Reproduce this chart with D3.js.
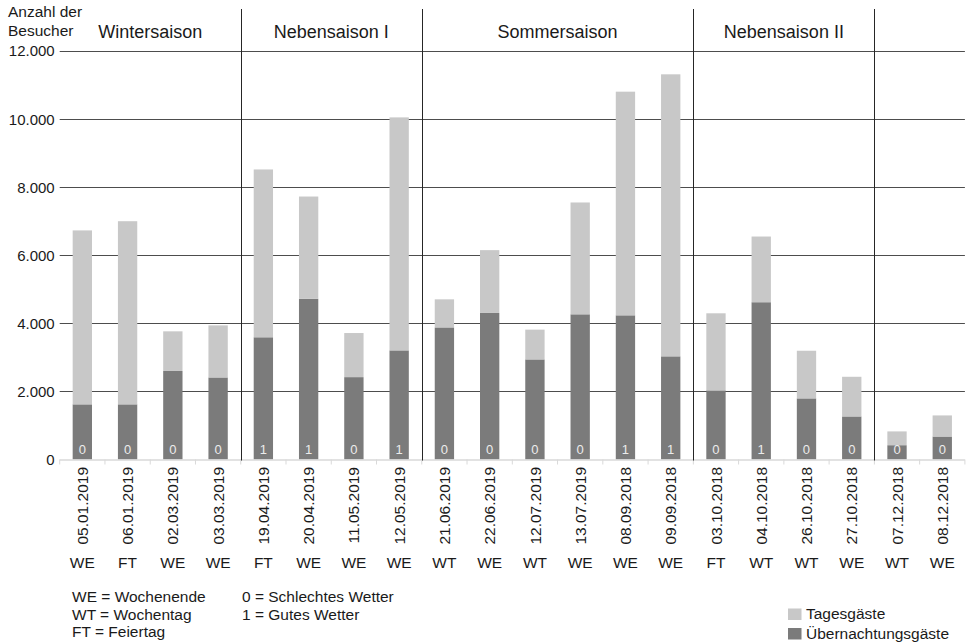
<!DOCTYPE html>
<html lang="de">
<head>
<meta charset="utf-8">
<title>Besucher nach Saison</title>
<script src="https://cdn.jsdelivr.net/npm/d3@7"></script>
<style>
  html, body { margin: 0; padding: 0; background: #fff; }
  svg { display: block; font-family: "Liberation Sans", Arial, sans-serif; }
</style>
</head>
<body>
<svg id="chart" width="966" height="643"></svg>
<script>
// Survey days
const dates = ["05.01.2019","06.01.2019","02.03.2019","03.03.2019",
               "19.04.2019","20.04.2019","11.05.2019","12.05.2019",
               "21.06.2019","22.06.2019","12.07.2019","13.07.2019","08.09.2018","09.09.2018",
               "03.10.2018","04.10.2018","26.10.2018","27.10.2018",
               "07.12.2018","08.12.2018"];
const dayTypes = ["WE","FT","WE","WE","FT","WE","WE","WE","WT","WE",
                  "WT","WE","WE","WE","FT","WT","WT","WE","WT","WE"];
const weather = [0,0,0,0,1,1,0,1,0,0,0,0,1,1,0,1,0,0,0,0];

// Visitors per day
const overnightGuests = [1620,1620,2600,2410,3590,4720,2420,3205,3880,4305,
                         2940,4265,4235,3030,2030,4620,1795,1265,420,675];
const dayGuests       = [5110,5380,1165,1530,4930,3005,1295,6845,825,1845,
                         875,3285,6570,8285,2265,1930,1400,1165,405,620];

// Seasons (number of survey days in each)
const seasonNames  = ["Wintersaison","Nebensaison I","Sommersaison","Nebensaison II",""];
const seasonCounts = [4,4,6,4,2];

const yTicks = [0,2000,4000,6000,8000,10000,12000];

const seriesKeys   = ["overnight","day"];
const seriesLabels = {day: "Tagesgäste", overnight: "Übernachtungsgäste"};
const seriesColors = {day: "#c8c8c8", overnight: "#7b7b7b"};

const dayTypeLegend = ["WE = Wochenende","WT = Wochentag","FT = Feiertag"];
const weatherLegend = ["0 = Schlechtes Wetter","1 = Gutes Wetter"];

// ---------------------------------------------------------------
const svg = d3.select("#chart");
const plotLeft = 59.7, plotRight = 964.9, plotTop = 51, plotBottom = 459.5;

const de = d3.formatLocale({decimal: ",", thousands: ".", grouping: [3], currency: ["", " €"]});
const fmt = de.format(",");

const xCell = d3.scaleBand().domain(dates).range([plotLeft, plotRight]).padding(0);
const x = xCell.copy().paddingInner(0.573).paddingOuter(0.2865);
const y = d3.scaleLinear().domain([0, 12000]).range([plotBottom, plotTop]);

const rows = dates.map((d, i) => ({date: d, overnight: overnightGuests[i], day: dayGuests[i]}));
const stacked = d3.stack().keys(seriesKeys)(rows);

// horizontal grid
svg.append("g").selectAll("line")
  .data(yTicks.filter(t => t > 0))
  .join("line")
  .attr("x1", plotLeft).attr("x2", plotRight)
  .attr("y1", d => Math.round(y(d)) + 0.5).attr("y2", d => Math.round(y(d)) + 0.5)
  .attr("stroke", "#4d4d4d").attr("stroke-width", 1);

// y axis labels
const yAxis = svg.append("g")
  .attr("transform", `translate(${plotLeft - 5},0)`)
  .call(d3.axisLeft(y).tickValues(yTicks).tickFormat(fmt).tickSize(0).tickPadding(0));
yAxis.select(".domain").remove();
yAxis.selectAll("text")
  .attr("font-family", "'Liberation Sans', Arial, sans-serif")
  .attr("font-size", 15).attr("fill", "#1a1a1a").attr("dy", "0.33em");

svg.append("text").attr("x", 8).attr("y", 17)
  .attr("font-size", 15.5).attr("fill", "#1a1a1a").text("Anzahl der");
svg.append("text").attr("x", 8).attr("y", 36)
  .attr("font-size", 15.5).attr("fill", "#1a1a1a").text("Besucher");

// stacked bars
svg.append("g").selectAll("g")
  .data(stacked)
  .join("g")
  .attr("fill", s => seriesColors[s.key])
  .selectAll("rect")
  .data(s => s)
  .join("rect")
  .attr("x", d => x(d.data.date))
  .attr("width", x.bandwidth())
  .attr("y", d => y(d[1]))
  .attr("height", d => y(d[0]) - y(d[1]));

// baseline with tick marks between days
const base = svg.append("g");
base.append("line")
  .attr("x1", plotLeft).attr("x2", plotRight)
  .attr("y1", plotBottom + 0.5).attr("y2", plotBottom + 0.5)
  .attr("stroke", "#d9d9d9").attr("stroke-width", 1.5);
base.selectAll("line.tick")
  .data(dates.map(d => xCell(d)).concat([plotRight]))
  .join("line").attr("class", "tick")
  .attr("x1", d => d).attr("x2", d => d)
  .attr("y1", plotBottom).attr("y2", plotBottom + 5)
  .attr("stroke", "#d9d9d9").attr("stroke-width", 1);

// season separators and titles
const bounds = [0];
seasonCounts.forEach(c => bounds.push(bounds[bounds.length - 1] + c));
const boundX = i => i < dates.length ? xCell(dates[i]) : plotRight;

svg.append("g").selectAll("line")
  .data(bounds.slice(1, -1))
  .join("line")
  .attr("x1", i => Math.round(boundX(i)) + 0.5).attr("x2", i => Math.round(boundX(i)) + 0.5)
  .attr("y1", 9).attr("y2", plotBottom + 1)
  .attr("stroke", "#262626").attr("stroke-width", 1);

svg.append("g").selectAll("text")
  .data(seasonNames)
  .join("text")
  .attr("x", (d, i) => (boundX(bounds[i]) + boundX(bounds[i + 1])) / 2)
  .attr("y", 38)
  .attr("text-anchor", "middle")
  .attr("font-size", 18).attr("fill", "#1a1a1a")
  .text(d => d);

// weather code inside each bar
svg.append("g").selectAll("text")
  .data(dates)
  .join("text")
  .attr("x", d => x(d) + x.bandwidth() / 2)
  .attr("y", 454)
  .attr("text-anchor", "middle")
  .attr("font-size", 13).attr("fill", "#ececec")
  .text((d, i) => weather[i]);

// rotated dates
svg.append("g").selectAll("text")
  .data(dates)
  .join("text")
  .attr("transform", d => `translate(${x(d) + x.bandwidth() / 2},467) rotate(-90)`)
  .attr("text-anchor", "end")
  .attr("dy", "0.36em")
  .attr("font-size", 15.5).attr("fill", "#1a1a1a")
  .text(d => d);

// day type row
svg.append("g").selectAll("text")
  .data(dates)
  .join("text")
  .attr("x", d => x(d) + x.bandwidth() / 2)
  .attr("y", 568)
  .attr("text-anchor", "middle")
  .attr("font-size", 15.5).attr("fill", "#1a1a1a")
  .text((d, i) => dayTypes[i]);

// key for abbreviations
svg.append("g").selectAll("text")
  .data(dayTypeLegend)
  .join("text")
  .attr("x", 72).attr("y", (d, i) => 602 + i * 17.5)
  .attr("font-size", 15.5).attr("fill", "#1a1a1a")
  .text(d => d);
svg.append("g").selectAll("text")
  .data(weatherLegend)
  .join("text")
  .attr("x", 242).attr("y", (d, i) => 602 + i * 17.5)
  .attr("font-size", 15.5).attr("fill", "#1a1a1a")
  .text(d => d);

// series legend
const legendKeys = ["day", "overnight"];
const lg = svg.append("g").selectAll("g")
  .data(legendKeys)
  .join("g")
  .attr("transform", (d, i) => `translate(788,${608.5 + i * 19.5})`);
lg.append("rect").attr("width", 13.5).attr("height", 11.5)
  .attr("fill", d => seriesColors[d]);
lg.append("text").attr("x", 18).attr("y", 10.5)
  .attr("font-size", 15.5).attr("fill", "#1a1a1a")
  .text(d => seriesLabels[d]);
</script>
</body>
</html>
